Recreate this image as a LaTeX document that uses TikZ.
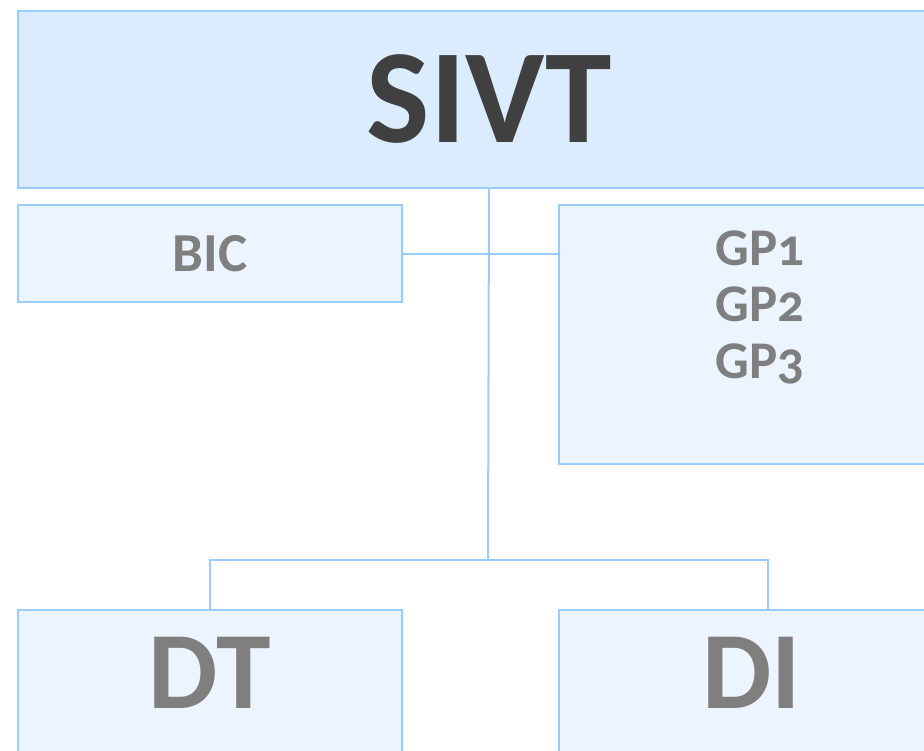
\documentclass[tikz,border=0pt]{standalone}
\usepackage{fontspec}
\setmainfont{Carlito}[Numbers=OldStyle]
\usetikzlibrary{positioning}

\definecolor{boxline}{RGB}{153,204,255}
\definecolor{topfill}{RGB}{220,236,255}
\definecolor{boxfill}{RGB}{236,244,255}
\definecolor{titlegray}{RGB}{64,64,64}
\definecolor{labelgray}{RGB}{127,127,127}

\begin{document}
\begin{tikzpicture}[x=1pt, y=-1pt,
    unit/.style={draw=boxline, line width=2pt, fill=boxfill, anchor=north west,
                 inner sep=0pt, text=labelgray, font=\bfseries},
    link/.style={draw=boxline, line width=2pt}]
                \useasboundingbox (0,0) rectangle (924,750);
                \clip (0,0) rectangle (924,750);

                \node [unit, fill=topfill, minimum width=942pt, minimum height=177pt, text=titlegray,
                       font=\bfseries\fontsize{134}{134}\selectfont] (sivt) at (17,10) {SIVT};
                \node [unit, minimum width=384pt, minimum height=97pt,
                       font=\bfseries\fontsize{55}{55}\selectfont] (bic) at (17,204) {BIC};
                \node [unit, minimum width=402pt, minimum height=259pt, align=center,
                       text height=147pt, text depth=60pt,
                       font=\bfseries\fontsize{53}{56.5}\selectfont] (gp) at (558,204) {GP1\\GP2\\GP3};
                \node [unit, minimum width=384pt, minimum height=200pt,
                       text height=70pt, text depth=74pt,
                       font=\bfseries\fontsize{110}{110}\selectfont] (dt) at (17,609) {DT};
                \node [unit, minimum width=386pt, minimum height=200pt,
                       text height=70pt, text depth=74pt,
                       font=\bfseries\fontsize{110}{110}\selectfont] (di) at (558,609) {DI};

                \coordinate (hub) at (488,560);

                \draw [link] (sivt.south) -- (hub);
                \draw [link] (bic.east) -- (bic.east -| gp.west);
                \draw [link] (dt.north) |- (hub) -| ([xshift=16pt]di.north);
            \end{tikzpicture}
\end{document}
